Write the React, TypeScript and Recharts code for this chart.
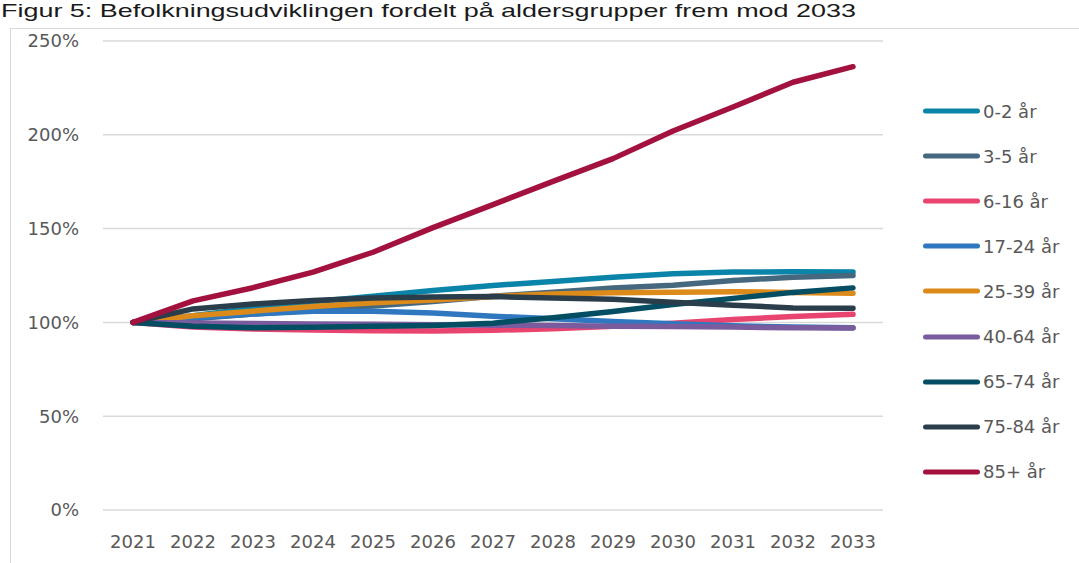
import React from 'react';
import { LineChart, Line, XAxis, YAxis, CartesianGrid } from 'recharts';

const years = ['2021', '2022', '2023', '2024', '2025', '2026', '2027', '2028', '2029', '2030', '2031', '2032', '2033'];

const age0to2 = [100, 103.5, 107.5, 111, 114, 117, 119.7, 121.8, 124.1, 125.9, 126.8, 127, 126.8];
const age3to5 = [100, 102, 104.5, 106.5, 108.7, 111.2, 114, 116.1, 118.4, 119.8, 122.3, 124.1, 125];
const age6to16 = [100, 97.5, 96.5, 96, 95.5, 95.4, 95.8, 96.6, 98, 99.5, 101.5, 103.2, 104.3];
const age17to24 = [100, 102.3, 104.5, 106, 106, 105, 103.3, 101.9, 100.5, 99.3, 98.2, 97.5, 97.2];
const age25to39 = [100, 103.5, 106, 108.5, 110.5, 112, 113.8, 115.2, 115.8, 116.1, 116.3, 116, 115.6];
const age40to64 = [100, 99.7, 99.4, 99.2, 99, 98.8, 98.5, 98.3, 98, 97.8, 97.5, 97.1, 97];
const age65to74 = [100, 98, 97.2, 97.4, 97.9, 98.4, 99.6, 102.5, 105.8, 109.5, 112.8, 116, 118.4];
const age75to84 = [100, 107.2, 109.8, 111.7, 113, 113.5, 113.8, 113, 112.3, 110.8, 109.2, 107.7, 107.5];
const age85plus = [100, 111.5, 118.5, 126.8, 137.4, 150.5, 162.8, 175.2, 187.3, 202, 214.8, 228, 236.3];

const yTicks = [0, 50, 100, 150, 200, 250];

const series = [
  { key: 'a0', name: '0-2 år', values: age0to2, color: '#0a84a8' },
  { key: 'a3', name: '3-5 år', values: age3to5, color: '#46687e' },
  { key: 'a6', name: '6-16 år', values: age6to16, color: '#e8446f' },
  { key: 'a17', name: '17-24 år', values: age17to24, color: '#2f78bf' },
  { key: 'a25', name: '25-39 år', values: age25to39, color: '#dc8b1a' },
  { key: 'a40', name: '40-64 år', values: age40to64, color: '#7a5c9e' },
  { key: 'a65', name: '65-74 år', values: age65to74, color: '#034e62' },
  { key: 'a75', name: '75-84 år', values: age75to84, color: '#2a3d4b' },
  { key: 'a85', name: '85+ år', values: age85plus, color: '#a3123e' },
];

const data = years.map((year, i) => {
  const row: Record<string, string | number> = { year };
  series.forEach((s) => {
    row[s.key] = s.values[i];
  });
  return row;
});

const font = '"DejaVu Sans", Verdana, sans-serif';

export default function App() {
  return (
    <div style={{ position: 'absolute', left: 0, top: 0, width: 1079, height: 563, overflow: 'hidden', background: '#fff' }}>
      <svg width={1079} height={28} style={{ position: 'absolute', left: 0, top: 0 }}>
        <text x={1} y={17} fontFamily='"Liberation Sans", Arial, sans-serif' fontSize={19} fill="#1a1a1a" textLength={855} lengthAdjust="spacingAndGlyphs">
          Figur 5: Befolkningsudviklingen fordelt på aldersgrupper frem mod 2033
        </text>
      </svg>
      <div style={{ position: 'absolute', left: 10, top: 28, right: -10, bottom: -10, borderLeft: '1px solid #d9d9d9', borderTop: '1px solid #d9d9d9' }} />

      <div style={{ position: 'absolute', left: 0, top: 0 }}>
        <LineChart width={1079} height={563} data={data} margin={{ top: 41, right: 196, left: 0, bottom: 0 }}>
          <CartesianGrid vertical={false} stroke="#d9d9d9" strokeWidth={1.5} />
          <XAxis
            dataKey="year"
            height={53}
            padding={{ left: 30, right: 30 }}
            axisLine={false}
            tickLine={false}
            tickSize={0}
            tickMargin={25}
            interval={0}
            tick={{ fontFamily: font, fontSize: 18, fill: '#595959' }}
          />
          <YAxis
            width={103}
            domain={[0, 250]}
            ticks={yTicks}
            axisLine={false}
            tickLine={false}
            tickSize={0}
            tickMargin={24}
            tickFormatter={(v: number) => `${v}%`}
            tick={{ fontFamily: font, fontSize: 18, fill: '#595959' }}
          />
          {series.map((s) => (
            <Line
              key={s.key}
              type="linear"
              dataKey={s.key}
              name={s.name}
              stroke={s.color}
              strokeWidth={5.5}
              strokeLinecap="round"
              strokeLinejoin="round"
              dot={false}
              activeDot={false}
              isAnimationActive={false}
            />
          ))}
        </LineChart>
      </div>

      <div style={{ position: 'absolute', left: 923, top: 88.5, fontFamily: font, fontSize: 18, color: '#595959' }}>
        {series.map((s) => (
          <div key={s.key} style={{ height: 45.1, display: 'flex', alignItems: 'center' }}>
            <svg width={57} height={8} style={{ marginRight: 3 }}>
              <line x1={2.5} y1={4} x2={54.5} y2={4} stroke={s.color} strokeWidth={5} strokeLinecap="round" />
            </svg>
            <span style={{ whiteSpace: 'nowrap' }}>{s.name}</span>
          </div>
        ))}
      </div>
    </div>
  );
}
